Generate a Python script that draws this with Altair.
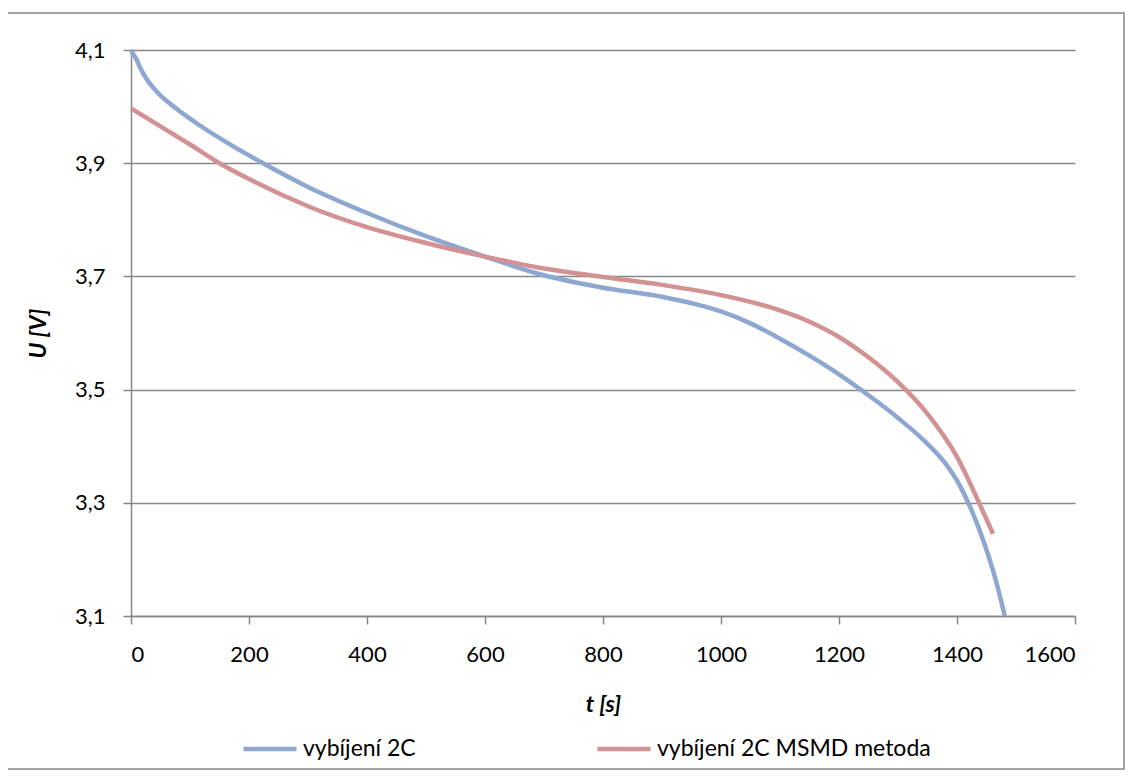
import altair as alt
import pandas as pd

# --- data ---
t_2c = [0, 5, 10, 15, 25, 45, 75, 105, 160, 220, 300, 400, 500, 600, 700, 800,
        900, 1000, 1050, 1100, 1150, 1200, 1250, 1300, 1350, 1380, 1405, 1425,
        1445, 1465, 1481]
u_2c = [4.100, 4.091, 4.082, 4.070, 4.051, 4.025, 3.998, 3.975, 3.938, 3.902, 3.858,
        3.812, 3.771, 3.735, 3.702, 3.680, 3.664, 3.638, 3.617, 3.590, 3.560, 3.527,
        3.490, 3.450, 3.404, 3.370, 3.330, 3.286, 3.232, 3.166, 3.100]

t_msmd = [0, 50, 100, 150, 200, 300, 400, 500, 600, 700, 800, 900, 1000, 1050,
          1100, 1150, 1200, 1250, 1300, 1350, 1400, 1433, 1461]
u_msmd = [3.997, 3.965, 3.933, 3.900, 3.872, 3.824, 3.787, 3.759, 3.735, 3.714,
          3.699, 3.685, 3.667, 3.655, 3.640, 3.620, 3.593, 3.557, 3.513, 3.457,
          3.381, 3.310, 3.245]

series = ["vybíjení 2C", "vybíjení 2C MSMD metoda"]
colors = ["#8EA7D0", "#D29192"]
x_ticks = [0, 200, 400, 600, 800, 1000, 1200, 1400, 1600]
y_ticks = [3.1, 3.3, 3.5, 3.7, 3.9, 4.1]

df = pd.concat([
    pd.DataFrame({"t": t_2c, "u": u_2c, "s": series[0]}),
    pd.DataFrame({"t": t_msmd, "u": u_msmd, "s": series[1]}),
])

W, H = 944, 566
FONT = "Lato"
GRAY = "#868686"

border = alt.Chart(pd.DataFrame({"a": [0]})).mark_rect(
    fill="transparent", stroke=GRAY, strokeWidth=1.5, clip=False
).encode(
    x=alt.value(-124), x2=alt.value(993), y=alt.value(-37), y2=alt.value(719)
)

lines = alt.Chart(df).mark_line(strokeWidth=4.5, interpolate="monotone").encode(
    x=alt.X("t:Q",
            scale=alt.Scale(domain=[0, 1600], nice=False),
            axis=alt.Axis(values=x_ticks, title="t [s]", grid=False, format="d",
                          labelPadding=20, titlePadding=28)),
    y=alt.Y("u:Q",
            scale=alt.Scale(domain=[3.1, 4.1], nice=False, zero=False),
            axis=alt.Axis(values=y_ticks, title="U [V]", grid=True,
                          labelExpr="replace(format(datum.value, '.1f'), '.', ',')",
                          labelPadding=18, titlePadding=24)),
    color=alt.Color("s:N", scale=alt.Scale(domain=series, range=colors),
                    legend=alt.Legend(title=None, orient="none", legendX=110, legendY=670,
                                      direction="horizontal", symbolType="stroke",
                                      symbolSize=2809, symbolStrokeWidth=4.5,
                                      labelFont=FONT, labelFontSize=23, labelColor="black",
                                      labelOffset=4, labelLimit=500, columnPadding=172)),
)

chart = alt.layer(border, lines).properties(
    width=W, height=H,
    autosize=alt.AutoSizeParams(type="none"),
    padding={"left": 123, "top": 42, "right": 50, "bottom": 156},
).configure_view(stroke=None).configure_axis(
    labelFont=FONT, labelFontSize=22, labelColor="black",
    titleFont=FONT, titleFontSize=23, titleFontStyle="italic", titleFontWeight="bold",
    titleColor="black",
    domainColor=GRAY, domainWidth=1.5, tickColor=GRAY, tickWidth=1.5, tickSize=8,
    gridColor=GRAY, gridWidth=1.3, gridOpacity=1,
)

chart.save("out.html", embed_options={"renderer": "svg", "actions": False})
